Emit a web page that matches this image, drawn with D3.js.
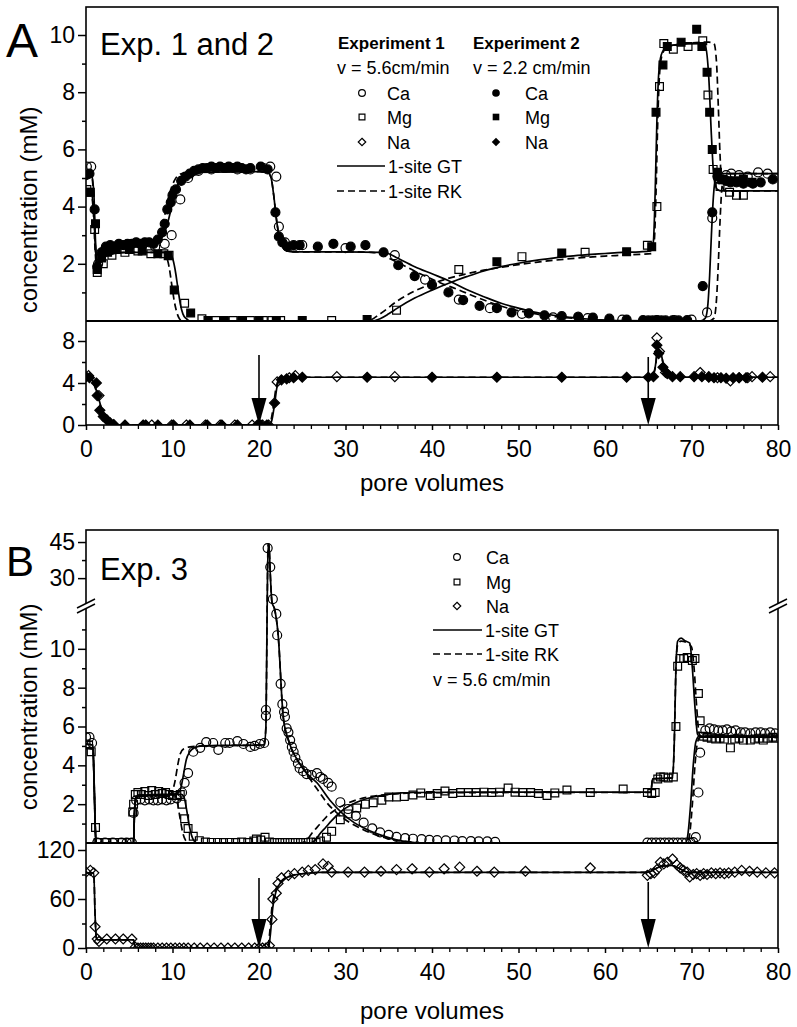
<!DOCTYPE html>
<html><head><meta charset="utf-8">
<script src="https://cdn.jsdelivr.net/npm/d3@7"></script>
<style>body{margin:0;background:#fff} svg{display:block} text{font-family:"Liberation Sans",Arial,sans-serif;fill:#000}</style>
</head><body><svg id="c" width="797" height="1027"></svg>
<script>
// ---------------- DATA (pore volumes, concentration) ----------------
const xTicks = [0,10,20,30,40,50,60,70,80];
const yTicksAUpper = [2,4,6,8,10];
const yTicksALower = [0,4,8];
const yTicksBUpper = [2,4,6,8,10,30,45];
const yTicksBLower = [0,60,120];

// Panel A, Experiment 1 (open symbols)
const caExp1 = [[0.1,5.4],[0.6,5.4],[1.4,2.0],[2.2,2.5],[3.5,2.6],[5,2.6],[6.5,2.65],[8,2.6],[9.1,2.7],[9.9,3.0],[10.9,4.25],[11.8,5.0],[13,5.25],[14.5,5.3],[16,5.35],[17.5,5.3],[19,5.3],[20.5,5.35],[21.3,5.4],[22,5.05],[22.3,3.3],[23,2.75],[24,2.6],[25,2.65],[30,2.55],[35.7,2.3],[39.2,1.45],[43.1,0.75],[46.7,0.45],[50.4,0.25],[54,0.13],[58,0.1],[62,0.05],[66,0.03],[68,0.03],[70,0.05],[71.8,0.3],[72.4,3.6],[73.2,4.95],[74,5.1],[74.6,5.15],[75.5,5.1],[76.5,5.05],[77.7,5.2],[78.8,5.15]];
const mgExp1 = [[0.1,4.6],[1.0,3.2],[1.3,1.7],[2,2.0],[3,2.3],[4.5,2.4],[6,2.45],[7.5,2.35],[9,2.35],[9.6,2.3],[11.4,0.62],[13.4,0.08],[15,0.02],[17,0.02],[19,0.02],[20.5,0.02],[21.5,0.02],[22.5,0.02],[28.4,0.02],[35.9,0.38],[43.1,1.8],[50.4,2.25],[57.7,2.4],[64.9,2.65],[66,4.0],[66.3,8.2],[66.8,9.7],[67.9,9.5],[69.6,9.6],[71.3,9.8],[71.9,7.9],[72.5,5.3],[73.3,4.7],[74.4,4.5],[75.2,4.4],[76,4.4]];
const naExp1 = [[0.3,4.7],[1.5,2.8],[7.6,0],[9.9,0],[11.6,0],[13.8,0],[15.5,0],[17.2,0],[19.2,0],[20.4,0],[21.1,0],[22.1,4.1],[23.5,4.5],[24.2,4.7],[29,4.6],[35.7,4.6],[66,8.3],[66.3,7.0],[67,5.0],[71,5.0],[72,4.6],[73,4.5],[74.5,4.2],[75.5,4.5],[76.5,4.5],[77,4.6],[79.1,4.6]];
// Panel A, Experiment 2 (filled symbols)
const caExp2 = [[0,5.1],[0.4,5.15],[1,3.9],[1.3,1.9],[1.8,2.4],[2.3,2.6],[2.8,2.65],[3.3,2.6],[3.8,2.7],[4.3,2.65],[4.8,2.7],[5.3,2.7],[5.8,2.75],[6.3,2.7],[6.8,2.75],[7.3,2.75],[7.8,2.7],[8.3,2.85],[8.8,3.1],[9.1,3.4],[9.4,3.9],[9.8,4.15],[10.0,4.4],[10.4,4.6],[11,4.9],[11.5,5.05],[12,5.15],[12.5,5.25],[13,5.3],[13.5,5.35],[14,5.35],[14.5,5.4],[15,5.35],[15.5,5.4],[16,5.35],[16.5,5.4],[17,5.35],[17.5,5.4],[18,5.35],[18.5,5.3],[19,5.35],[20.2,5.4],[21,5.3],[21.9,3.8],[22.3,2.95],[22.7,2.75],[23.3,2.6],[24,2.65],[24.7,2.65],[26.8,2.6],[28.6,2.7],[30.6,2.6],[32.3,2.65],[34.4,2.4],[36.1,1.95],[38,1.57],[40,1.26],[41.9,1.0],[43.6,0.73],[45.5,0.53],[47.5,0.45],[49.2,0.3],[51.2,0.27],[53,0.2],[55,0.17],[56.9,0.15],[58.6,0.12],[60.5,0.08],[62.5,0.05],[64.4,0.03],[65,0.02],[65.5,0.02],[66,0.02],[66.5,0.02],[67,0.02],[67.8,0.02],[68.5,0.02],[69.5,0.03],[71.3,1.22],[72.4,3.8],[73,5.05],[73.5,4.95],[74,4.9],[74.5,4.85],[75.2,4.85],[76,4.8],[77.1,4.8],[78,4.85],[79.4,4.95]];
const mgExp2 = [[0.1,4.5],[0.5,4.5],[1.1,3.4],[1.3,1.8],[1.8,2.2],[2.5,2.4],[3.5,2.5],[5,2.5],[6.5,2.45],[8.3,2.35],[9.5,2.28],[10.2,1.08],[12.1,0.28],[14.1,0.02],[16,0.02],[18,0.02],[20,0.02],[22,0.02],[25,0.02],[32.5,0.05],[47.5,2.07],[55,2.38],[62.5,2.42],[65.4,2.6],[65.9,7.3],[66.7,8.95],[67.2,9.6],[68.8,9.75],[70.6,10.2],[71.2,9.6],[71.8,8.7],[72.1,7.3],[72.4,6.0],[73,5.2],[73.6,4.95],[74.2,4.9],[75,4.9],[76,4.95],[77,4.85]];
const naExp2 = [[0,4.6],[0.4,4.5],[1.2,4.0],[1.3,2.8],[1.6,1.4],[2.0,0.8],[2.4,0.5],[2.8,0.2],[3.2,0.05],[4.5,0],[6.6,0],[6.9,0],[8.3,0],[10.1,0],[12,0],[14,0],[15.7,0],[17.5,0],[19.8,0],[20.2,0],[20.9,0],[21.8,2.1],[22.6,4.3],[23.2,4.4],[24,4.5],[25,4.55],[32.5,4.55],[40,4.55],[47.5,4.55],[55,4.55],[62.5,4.55],[65,4.55],[65.6,4.6],[66,7.6],[66.2,6.8],[66.7,5.5],[67.2,4.9],[67.8,4.6],[68.7,4.6],[70.3,4.6],[71.2,4.6],[72,4.55],[72.6,4.5],[73.4,4.5],[74,4.45],[74.8,4.5],[75.5,4.5],[76.3,4.5],[78.2,4.55]];
// Panel A models
const caGT_A = [[0,5.2],[0.6,5.15],[0.9,4.5],[1.1,2.8],[1.3,1.9],[1.6,2.2],[2.2,2.5],[3,2.6],[5,2.65],[7,2.7],[8,2.75],[8.6,2.85],[9.1,3.1],[9.5,3.5],[9.9,4.0],[10.3,4.5],[10.8,4.9],[11.5,5.1],[12.5,5.2],[20,5.22],[21,5.2],[21.4,5.0],[21.7,4.4],[22.0,3.6],[22.3,3.0],[22.7,2.6],[23.2,2.45],[24,2.42],[30,2.42],[34,2.4],[35,2.35],[36,2.2],[38,1.9],[40,1.65],[42,1.4],[44,1.1],[46,0.85],[48,0.62],[50,0.45],[52,0.3],[54,0.2],[56,0.13],[58,0.07],[60,0.03],[62,0.01],[71,0],[71.6,0.1],[71.9,0.6],[72.1,1.6],[72.3,3.0],[72.5,4.2],[72.8,5.0],[73.5,5.15],[80,5.15]];
const caRK_A = [[0,5.2],[0.6,5.15],[0.85,4.5],[1.05,2.8],[1.25,1.9],[1.6,2.25],[2.2,2.5],[3,2.6],[5,2.65],[7,2.7],[8,2.8],[8.5,3.0],[8.9,3.4],[9.3,4.0],[9.7,4.5],[10.2,4.9],[11,5.15],[12,5.2],[20,5.22],[21,5.2],[21.4,5.0],[21.7,4.4],[22.0,3.6],[22.3,3.0],[22.7,2.6],[23.2,2.45],[24,2.42],[30,2.42],[33,2.4],[34,2.35],[35,2.2],[37,1.9],[39,1.6],[41,1.33],[43,1.1],[45,0.85],[47,0.62],[49,0.43],[51,0.3],[53,0.2],[55,0.13],[57,0.08],[59,0.04],[61,0.01],[72,0],[72.6,0.1],[72.9,0.8],[73.1,2.0],[73.3,3.5],[73.5,4.6],[73.8,5.1],[74.3,5.15],[80,5.15]];
const mgGT_A = [[0,4.5],[0.6,4.45],[0.9,3.8],[1.1,2.5],[1.3,1.8],[1.6,2.0],[2.2,2.25],[3,2.35],[5,2.4],[9,2.4],[9.6,2.38],[10.0,2.2],[10.3,1.8],[10.6,1.2],[10.9,0.6],[11.2,0.25],[11.6,0.08],[12,0],[33,0],[34,0.08],[35,0.25],[36,0.45],[38,0.8],[40,1.08],[42,1.33],[44,1.55],[46,1.75],[48,1.9],[50,2.02],[52,2.12],[54,2.2],[56,2.27],[58,2.32],[60,2.36],[62,2.4],[64,2.42],[65.3,2.45],[65.6,2.8],[65.8,4.5],[66.0,7.0],[66.2,8.6],[66.5,9.3],[67,9.55],[68,9.65],[71,9.7],[71.6,9.6],[72.0,8.5],[72.3,6.5],[72.6,5.0],[73,4.6],[73.5,4.55],[80,4.55]];
const mgRK_A = [[0,4.5],[0.6,4.45],[0.85,3.8],[1.05,2.5],[1.25,1.8],[1.6,2.0],[2.2,2.25],[3,2.35],[5,2.4],[9.0,2.4],[9.3,2.25],[9.6,1.9],[9.9,1.3],[10.2,0.7],[10.5,0.3],[10.8,0.08],[11.2,0],[32.5,0],[34,0.25],[36,0.7],[38,1.05],[40,1.3],[42,1.5],[44,1.65],[46,1.78],[48,1.88],[50,1.97],[52,2.05],[54,2.12],[56,2.18],[58,2.23],[60,2.27],[62,2.3],[64,2.33],[65.4,2.36],[65.7,2.8],[65.9,4.5],[66.1,7.0],[66.3,8.6],[66.6,9.3],[67.1,9.55],[68,9.65],[72,9.75],[72.6,9.7],[72.9,9.0],[73.1,7.5],[73.3,5.8],[73.5,4.8],[73.9,4.55],[80,4.55]];
const naGT_A = [[0,4.6],[0.5,4.5],[1,3.8],[1.5,2.4],[2,1.1],[2.5,0.4],[3,0.1],[3.5,0],[21.2,0],[21.5,0.5],[21.8,2.0],[22.1,3.7],[22.5,4.4],[23,4.55],[65.4,4.55],[65.8,5.5],[66.1,7.2],[66.4,7.0],[66.8,5.6],[67.3,4.8],[68,4.55],[80,4.55]];
const naRK_A = [[0,4.6],[0.5,4.5],[1,3.7],[1.5,2.3],[2,1.0],[2.5,0.35],[3,0.08],[3.5,0],[21.1,0],[21.4,0.5],[21.7,2.0],[22.0,3.7],[22.4,4.4],[22.9,4.55],[65.4,4.55],[65.8,5.4],[66.1,7.0],[66.4,6.9],[66.8,5.6],[67.3,4.8],[68,4.55],[80,4.55]];

// Panel B, Experiment 3 (open symbols)
const caB = [[0,5.45],[0.4,5.45],[0.7,5.15],[1.3,0.02],[2.2,0.02],[3.1,0.02],[4.1,0.02],[4.7,0.02],[5.3,0.02],[5.5,1.55],[5.8,2.2],[6.3,2.25],[6.8,2.2],[7.3,2.25],[7.8,2.2],[8.3,2.2],[8.8,2.25],[9.3,2.2],[9.8,2.25],[10.5,2.3],[11.1,2.6],[11.4,3.1],[11.8,3.6],[12.4,4.7],[13.2,4.9],[13.9,5.2],[14.7,5.15],[15.3,4.8],[16.1,5.15],[16.6,5.15],[17.5,5.25],[18.2,5.1],[19,4.95],[19.5,5.0],[20.1,5.1],[20.6,5.15],[20.8,6.55],[20.8,6.85],[21.0,42.5],[21.3,34.6],[21.6,21.3],[22.0,11.8],[22.1,10.7],[22.5,8.2],[22.7,7.15],[22.9,6.75],[23.0,6.5],[23.2,5.9],[23.4,5.7],[23.6,5.3],[23.8,4.95],[24.0,4.7],[24.2,4.4],[24.5,4.1],[24.7,3.85],[25.1,3.7],[25.5,3.55],[26.1,3.5],[26.7,3.6],[27.1,3.4],[27.4,3.3],[28,3.1],[28.4,2.9],[29.4,2.1],[30.3,1.75],[31.2,1.4],[32.1,1.05],[33.1,0.75],[34,0.55],[35,0.42],[35.9,0.32],[36.9,0.25],[37.8,0.22],[38.8,0.2],[39.7,0.16],[40.6,0.15],[41.6,0.14],[42.6,0.13],[43.5,0.1],[44.5,0.1],[45.4,0.08],[46.4,0.08],[47.3,0.06],[64.9,0.02],[65.4,0.02],[65.9,0.02],[66.4,0.02],[66.9,0.02],[67.4,0.02],[67.9,0.02],[68.4,0.02],[68.9,0.02],[69.4,0.02],[69.9,0.02],[70.2,0.05],[70.5,0.3],[70.8,2.6],[71.0,4.65],[71.6,5.8],[72.1,5.9],[72.6,5.85],[73.1,5.8],[73.6,5.8],[74.1,5.85],[74.6,5.75],[75.1,5.8],[75.7,5.7],[76.2,5.7],[76.8,5.65],[77.4,5.7],[78,5.7],[78.5,5.65],[79.1,5.7],[79.7,5.65]];
const mgB = [[0,5.1],[0.3,5.05],[0.6,4.7],[1.1,0.8],[1.4,0.02],[2.4,0.02],[3.3,0.02],[4.2,0.02],[5.0,0.02],[5.4,1.6],[5.5,2.0],[5.7,2.5],[6.0,2.6],[6.4,2.5],[6.8,2.65],[7.2,2.45],[7.6,2.7],[8.0,2.5],[8.4,2.65],[8.8,2.55],[9.2,2.6],[9.6,2.5],[10.0,2.45],[10.5,2.45],[10.9,2.5],[11.1,2.0],[11.4,1.25],[11.8,0.75],[12.4,0.35],[13.1,0.12],[13.8,0.05],[14.5,0.03],[15.2,0.03],[15.9,0.02],[16.6,0.03],[17.3,0.02],[18,0.05],[18.7,0.02],[19.4,0.1],[19.7,0.2],[20.2,0.15],[20.7,0.3],[21.2,0.05],[21.8,0.02],[22.4,0.02],[23,0.02],[23.6,0.02],[24.2,0.02],[24.8,0.02],[25.4,0.02],[26,0.05],[26.6,0.02],[27.1,0.1],[27.8,0.3],[28.4,0.6],[29.4,1.2],[30.3,1.5],[31.3,1.8],[32.3,2.0],[33.2,2.07],[34.2,2.2],[35,2.37],[35.9,2.37],[36.8,2.4],[37.8,2.47],[38.7,2.58],[39.8,2.45],[40.6,2.55],[41.5,2.68],[42.4,2.55],[43.3,2.6],[44.2,2.6],[45.1,2.6],[46,2.62],[46.9,2.6],[47.8,2.62],[48.8,2.83],[49.6,2.62],[50.5,2.6],[51.4,2.6],[52.3,2.55],[53.3,2.45],[54.2,2.58],[55.6,2.73],[58.3,2.6],[62.1,2.78],[64.9,2.6],[65.4,2.55],[65.8,2.6],[66.1,3.3],[66.4,3.4],[66.8,3.4],[67.3,3.35],[67.9,3.4],[68.2,6.0],[68.4,9.1],[68.7,9.5],[69.1,9.5],[69.5,9.55],[70.1,9.4],[70.4,9.5],[70.8,7.7],[71.0,6.3],[71.4,5.5],[71.8,5.45],[72.3,5.4],[72.8,5.35],[73.3,5.4],[73.8,5.35],[74.5,4.9],[75.0,5.35],[75.5,5.4],[76.0,5.3],[76.8,5.3],[77.3,5.35],[77.8,5.4],[78.3,5.3],[78.8,5.4],[79.4,5.45],[79.8,5.4]];
const naB = [[0,93],[0.5,95],[0.9,92],[1.05,26],[1.3,11],[1.5,8],[2.4,11],[3.4,11],[4.3,11],[5.3,11],[5.7,1],[6.0,0],[6.3,0],[6.6,0],[6.9,0],[7.2,0],[7.5,0],[7.8,0],[8.3,0],[8.8,0],[9.3,0],[9.8,0],[10.3,0],[10.8,0],[11.3,0],[11.8,0],[12.5,0],[13.2,0],[14,0],[14.8,0],[15.6,0],[16.4,0],[17.2,0],[18,0],[18.8,0],[19.5,0],[20,0],[20.4,0],[20.8,0],[21.2,3],[21.5,35],[21.6,60],[22,67],[22.2,79],[22.6,86],[23.4,89],[24.1,91],[25,93],[25.7,95],[26.5,96],[27.4,103],[28,100],[28.4,93],[30.3,93],[32.2,93],[34.1,94],[35.9,96],[37.7,97],[39.7,93],[41.4,97],[43.2,99],[45.2,94],[47.2,93],[50.8,94],[58.3,98],[64.9,89],[65.3,91],[65.7,92],[66.0,96],[66.4,105],[66.8,103],[67.2,105],[67.8,109],[68.3,102],[68.7,98],[69.1,95],[69.5,93],[69.8,87],[70.2,90],[70.6,91],[71.0,89],[71.4,91],[71.8,90],[72.3,92],[72.8,91],[73.3,92],[73.8,91],[74.3,92],[75,93],[75.8,95],[76.7,94],[77.6,93],[78.6,92],[79.6,92]];
// Panel B models
const caGT_B = [[0,5.1],[0.8,5.05],[0.95,3],[1.1,0.5],[1.2,0],[5.5,0],[5.6,1.5],[5.75,2.3],[6,2.4],[8,2.45],[10,2.5],[10.7,2.6],[11,2.9],[11.3,3.6],[11.6,4.3],[12,4.7],[12.5,4.9],[13.5,5.0],[20.6,5.05],[20.8,6],[20.95,20],[21.05,44],[21.15,44],[21.3,32],[21.5,20],[21.8,14],[22.2,10.8],[22.8,6.5],[23.4,5.3],[24.4,4.3],[25.5,3.6],[26.7,3.1],[28.2,2.2],[29.7,1.5],[31,1.05],[32,0.8],[33.5,0.5],[34.8,0.3],[36,0.15],[37.5,0.05],[39,0],[69.3,0],[69.6,0.5],[69.9,2],[70.2,4],[70.5,5.2],[70.9,5.5],[80,5.5]];
const caRK_B = [[0,5.1],[0.8,5.05],[0.95,3],[1.1,0.5],[1.2,0],[5.5,0],[5.6,1.5],[5.75,2.3],[6,2.4],[8,2.45],[9.7,2.5],[10.0,2.7],[10.3,3.2],[10.6,4.0],[10.9,4.6],[11.3,4.85],[12,4.95],[13.5,5.0],[20.6,5.05],[20.8,6],[20.95,20],[21.05,44],[21.15,44],[21.3,32],[21.5,20],[21.8,14],[22.2,10.8],[22.8,6.5],[23.4,5.3],[24.4,4.3],[25.5,3.6],[26.2,3.1],[27,2.6],[27.8,2.1],[29,1.55],[30.5,1.05],[32,0.7],[33.5,0.42],[35,0.22],[36.5,0.1],[38,0.03],[39,0],[69.5,0],[69.8,0.5],[70.1,2],[70.4,4],[70.7,5.2],[71.1,5.5],[80,5.5]];
const mgGT_B = [[0,4.9],[0.8,4.85],[0.95,2.8],[1.1,0.4],[1.2,0],[5.5,0],[5.6,1.5],[5.75,2.3],[6,2.45],[10,2.5],[11,2.5],[11.3,2.4],[11.6,1.8],[11.9,1.0],[12.2,0.4],[12.5,0.1],[12.9,0],[25.8,0],[26.5,0.15],[27,0.45],[27.7,0.8],[28.4,1.15],[29.7,1.7],[31.3,2.1],[33.2,2.37],[35.1,2.52],[37.8,2.6],[50,2.62],[65.3,2.62],[65.5,3.3],[67.8,3.35],[68,5],[68.2,9],[68.4,10.4],[68.8,10.55],[69.3,10.4],[69.8,10.3],[70.1,9],[70.4,7],[70.7,5.6],[71,5.45],[80,5.45]];
const mgRK_B = [[0,4.9],[0.8,4.85],[0.95,2.8],[1.1,0.4],[1.2,0],[5.5,0],[5.6,1.5],[5.75,2.3],[6,2.45],[10,2.5],[10.3,2.45],[10.6,2.0],[10.9,1.2],[11.2,0.5],[11.5,0.15],[11.9,0],[24.8,0],[25.5,0.15],[26.2,0.55],[27,0.95],[27.8,1.35],[28.8,1.7],[30,2.0],[31.5,2.25],[33,2.4],[35,2.5],[38,2.58],[50,2.6],[65.3,2.6],[65.5,3.3],[67.8,3.35],[68,5],[68.2,9],[68.4,10.2],[68.8,10.4],[69.5,10.3],[70.0,10.1],[70.3,9],[70.6,7],[70.9,5.6],[71.2,5.45],[80,5.45]];
const naGT_B = [[0,92],[0.9,92],[1.05,40],[1.2,12],[1.35,10],[5.5,10],[5.6,5],[5.75,0],[21.1,0],[21.3,15],[21.6,50],[22,70],[22.5,80],[23,85],[24,89],[25.5,91.5],[27,92.5],[64.8,92.5],[65.3,94],[66,98],[66.8,100.5],[67.8,101],[68.5,98],[69.2,94],[69.8,92.5],[80,92.5]];
const naRK_B = [[0,92],[0.9,92],[1.05,40],[1.2,12],[1.35,10],[5.5,10],[5.6,5],[5.75,0],[21.0,0],[21.2,15],[21.5,50],[21.9,70],[22.4,80],[22.9,85],[23.9,89],[25.4,91.5],[27,92.5],[64.8,92.5],[65.3,94],[66,98],[66.8,100.5],[67.8,101],[68.5,98],[69.2,94],[69.8,92.5],[80,92.5]];

// ---------------- DRAWING ----------------
const svg = d3.select("#c");
const L = 86, R = 778;
const x = d3.scaleLinear().domain([0,80]).range([L,R]);
const yAu = d3.scaleLinear().domain([0,10]).range([321,35]);
const yAl = d3.scaleLinear().domain([0,8]).range([425,341]);
const yBu = d3.scaleLinear().domain([0,12,18,50]).range([843,610,607,530]);
const yBl = d3.scaleLinear().domain([0,120]).range([948,850]);

const defs = svg.append("defs");
function clip(id, y0, y1){ defs.append("clipPath").attr("id",id).append("rect").attr("x",L).attr("y",y0).attr("width",R-L).attr("height",y1-y0); }
clip("cAu",7,321); clip("cAl",321,425); clip("cBu",530,843); clip("cBl",843,948);

function shapePath(shape, cx, cy, s){
  if(shape==="circle") return `M${cx-s},${cy}a${s},${s} 0 1,0 ${2*s},0a${s},${s} 0 1,0 ${-2*s},0Z`;
  if(shape==="square") return `M${cx-s},${cy-s}h${2*s}v${2*s}h${-2*s}Z`;
  return `M${cx},${cy-s}L${cx+s},${cy}L${cx},${cy+s}L${cx-s},${cy}Z`;
}
const sizes = {circle:4.5, square:3.9, diamond:5.0};
function pts(g, data, ys, shape, filled){
  g.append("g").selectAll("path").data(data).join("path")
    .attr("d", d => shapePath(shape, x(d[0]), ys(d[1]), sizes[shape]))
    .attr("fill", filled ? "#000" : "none")
    .attr("stroke","#000").attr("stroke-width",1.2);
}
function ln(g, data, ys, dashed){
  const line = d3.line().x(d=>x(d[0])).y(d=>ys(d[1])).curve(d3.curveMonotoneX);
  g.append("path").datum(data).attr("d",line).attr("fill","none").attr("stroke","#000")
    .attr("stroke-width",1.7).attr("stroke-dasharray", dashed ? "7,4" : null);
}
function leftAxis(ys, major, minor){
  const g = svg.append("g").attr("transform",`translate(${L},0)`);
  g.call(d3.axisLeft(ys).tickValues(major).tickSize(8).tickPadding(3).tickFormat(d3.format("d")));
  g.select(".domain").remove();
  g.selectAll("text").attr("font-size",23).attr("font-family","Liberation Sans, Arial, sans-serif");
  g.selectAll("line").attr("stroke-width",1.5);
  if(minor){
    const m = svg.append("g").attr("transform",`translate(${L},0)`);
    m.call(d3.axisLeft(ys).tickValues(minor).tickSize(4).tickFormat(""));
    m.select(".domain").remove(); m.selectAll("line").attr("stroke-width",1.5);
  }
}
function bottomAxis(y0){
  const g = svg.append("g").attr("transform",`translate(0,${y0})`);
  g.call(d3.axisBottom(x).tickValues(xTicks).tickSize(5).tickPadding(11).tickFormat(d3.format("d")));
  g.select(".domain").remove();
  g.selectAll("text").attr("font-size",23).attr("font-family","Liberation Sans, Arial, sans-serif");
  g.selectAll("line").attr("stroke-width",1.5);
  const m = svg.append("g").attr("transform",`translate(0,${y0})`);
  m.call(d3.axisBottom(x).tickValues(d3.range(2,80,2).filter(v=>v%10)).tickSize(4).tickFormat(""));
  m.select(".domain").remove(); m.selectAll("line").attr("stroke-width",1.3);
}
function frame(y0, ymid, y1){
  svg.append("rect").attr("x",L).attr("y",y0).attr("width",R-L).attr("height",y1-y0)
    .attr("fill","none").attr("stroke","#000").attr("stroke-width",1.6);
  svg.append("line").attr("x1",L).attr("x2",R).attr("y1",ymid).attr("y2",ymid).attr("stroke","#000").attr("stroke-width",2);
}
function arrow(xv, y0, tip, head){
  const X = x(xv);
  svg.append("line").attr("x1",X).attr("x2",X).attr("y1",y0).attr("y2",tip-head+1).attr("stroke","#000").attr("stroke-width",1.6);
  svg.append("path").attr("d",`M${X-7.5},${tip-head}L${X+7.5},${tip-head}L${X},${tip}Z`).attr("fill","#000");
}
function txt(t, xx, yy, size, opts={}){
  const e = svg.append("text").attr("x",xx).attr("y",yy).attr("font-size",size).text(t);
  if(opts.bold) e.attr("font-weight","bold");
  if(opts.anchor) e.attr("text-anchor",opts.anchor);
  return e;
}

// ---- Panel A ----
const gAu = svg.append("g").attr("clip-path","url(#cAu)");
ln(gAu, caRK_A, yAu, true); ln(gAu, mgRK_A, yAu, true);
ln(gAu, caGT_A, yAu, false); ln(gAu, mgGT_A, yAu, false);
pts(gAu, mgExp1, yAu, "square", false);
pts(gAu, caExp1, yAu, "circle", false);
pts(gAu, mgExp2, yAu, "square", true);
pts(gAu, caExp2, yAu, "circle", true);
const gAl = svg.append("g").attr("clip-path","url(#cAl)");
ln(gAl, naRK_A, yAl, true); ln(gAl, naGT_A, yAl, false);
pts(gAl, naExp1, yAl, "diamond", false);
pts(gAl, naExp2, yAl, "diamond", true);
frame(7, 321, 425);
leftAxis(yAu, yTicksAUpper, [1,3,5,7,9]);
leftAxis(yAl, yTicksALower, [2,6]);
bottomAxis(425);
arrow(20, 355, 425, 27); arrow(65, 357, 425, 27);

// ---- Panel B ----
const gBu = svg.append("g").attr("clip-path","url(#cBu)");
ln(gBu, caRK_B, yBu, true); ln(gBu, mgRK_B, yBu, true);
ln(gBu, caGT_B, yBu, false); ln(gBu, mgGT_B, yBu, false);
pts(gBu, mgB, yBu, "square", false);
pts(gBu, caB, yBu, "circle", false);
const gBl = svg.append("g").attr("clip-path","url(#cBl)");
ln(gBl, naRK_B, yBl, true); ln(gBl, naGT_B, yBl, false);
pts(gBl, naB, yBl, "diamond", false);
frame(530, 843, 948);
leftAxis(yBu, yTicksBUpper, [1,3,5,7,9,11,37.5]);
leftAxis(yBl, yTicksBLower, [30,90]);
bottomAxis(948);
arrow(20, 878, 948, 29); arrow(65, 882, 948, 29);
// axis breaks
function brk(cx, cy){
  svg.append("path").attr("d",`M${cx-9},${cy+7}L${cx+9},${cy-2}L${cx+9},${cy-7}L${cx-9},${cy+2}Z`).attr("fill","#fff");
  svg.append("line").attr("x1",cx-9).attr("y1",cy+7).attr("x2",cx+9).attr("y2",cy-2).attr("stroke","#000").attr("stroke-width",1.4);
  svg.append("line").attr("x1",cx-9).attr("y1",cy+2).attr("x2",cx+9).attr("y2",cy-7).attr("stroke","#000").attr("stroke-width",1.4);
}
brk(L, 606); brk(R, 606);

// ---- Titles / labels ----
txt("A", 6, 57, 48);
txt("B", 6, 576, 42);
txt("Exp. 1 and 2", 100, 55, 31);
txt("Exp. 3", 100, 580, 31);
txt("pore volumes", 432, 491, 24, {anchor:"middle"});
txt("pore volumes", 432, 1019, 24, {anchor:"middle"});
txt("concentration (mM)", 0, 0, 24, {anchor:"middle"}).attr("transform","translate(37,210) rotate(-90)");
txt("concentration (mM)", 0, 0, 24, {anchor:"middle"}).attr("transform","translate(37,707) rotate(-90)");

// ---- Legend A ----
txt("Experiment 1", 338, 49, 17, {bold:true});
txt("Experiment 2", 473, 49, 17, {bold:true});
txt("v = 5.6cm/min", 337, 74, 18);
txt("v = 2.2 cm/min", 473, 74, 18);
const legRowsA = [["Ca","circle",93],["Mg","square",117],["Na","diamond",142]];
legRowsA.forEach(([lab,shape,yy])=>{
  svg.append("path").attr("d",shapePath(shape,362,yy,sizes[shape]*0.75)).attr("fill","none").attr("stroke","#000").attr("stroke-width",1.2);
  txt(lab,387,yy+6.5,18);
  svg.append("path").attr("d",shapePath(shape,496,yy,sizes[shape]*0.85)).attr("fill","#000");
  txt(lab,525,yy+6.5,18);
});
svg.append("line").attr("x1",337).attr("x2",385).attr("y1",166).attr("y2",166).attr("stroke","#000").attr("stroke-width",1.6);
txt("1-site GT",388,172.5,18);
svg.append("line").attr("x1",337).attr("x2",385).attr("y1",191).attr("y2",191).attr("stroke","#000").attr("stroke-width",1.6).attr("stroke-dasharray","7,4");
txt("1-site RK",388,197.5,18);

// ---- Legend B ----
const legRowsB = [["Ca","circle",557],["Mg","square",582],["Na","diamond",606]];
legRowsB.forEach(([lab,shape,yy])=>{
  svg.append("path").attr("d",shapePath(shape,457,yy,sizes[shape]*0.75)).attr("fill","none").attr("stroke","#000").attr("stroke-width",1.2);
  txt(lab,486,yy+6.5,18);
});
svg.append("line").attr("x1",433).attr("x2",482).attr("y1",630).attr("y2",630).attr("stroke","#000").attr("stroke-width",1.6);
txt("1-site GT",485,636.5,18);
svg.append("line").attr("x1",433).attr("x2",482).attr("y1",654).attr("y2",654).attr("stroke","#000").attr("stroke-width",1.6).attr("stroke-dasharray","7,4");
txt("1-site RK",485,660.5,18);
txt("v = 5.6 cm/min",433,685.5,18);
</script></body></html>
